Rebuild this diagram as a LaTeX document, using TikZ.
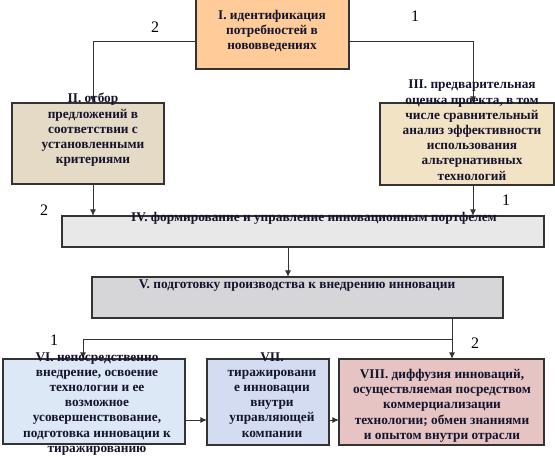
\documentclass[tikz,border=0pt]{standalone}
\usepackage{fontspec}
\setmainfont{Liberation Serif}
\usetikzlibrary{arrows.meta,fit}
\definecolor{ink}{RGB}{20,20,45}
\definecolor{peach}{RGB}{255,204,153}
\definecolor{paper}{RGB}{228,218,198}
\definecolor{tan}{RGB}{242,227,196}
\definecolor{stone}{RGB}{232,232,232}
\definecolor{marble}{RGB}{214,214,216}
\definecolor{sky}{RGB}{220,232,246}
\definecolor{lilac}{RGB}{212,220,242}
\definecolor{rose}{RGB}{230,196,196}
\begin{document}
\begin{tikzpicture}[x=0.75pt,y=-0.75pt,
  box/.style={draw=black!80,line width=0.9pt,inner sep=0pt,outer sep=0pt},
  txt/.style={anchor=north,align=center,inner sep=0pt,text=ink,
    font=\bfseries\fontsize{10}{11.4}\selectfont,execute at begin node=\strut},
  num/.style={inner sep=1pt,font=\fontsize{12}{14}\selectfont},
  arr/.style={draw=black!80,line width=0.75pt,-{Latex[length=5pt,width=4.5pt]}}]
  \useasboundingbox (0,0) rectangle (555,456);
  % boxes
  \node [box,fill=peach,fit={(196,-3) (349,69)}] (b1) {};
  \node [box,fill=paper,fit={(12,103) (164,184)}] (b2) {};
  \node [box,fill=tan,fit={(380,103) (554,185)}] (b3) {};
  \node [box,fill=stone,fit={(62,216) (544,247)}] (b4) {};
  \node [box,fill=marble,fit={(92,277) (503,318)}] (b5) {};
  \node [box,fill=sky,fit={(3,359) (185,444)}] (b6) {};
  \node [box,fill=lilac,fit={(207,359) (329,445)}] (b7) {};
  \node [box,fill=rose,fit={(339,359) (544,445)}] (b8) {};
  \coordinate (split) at (452,339);
  % connectors
  \draw [arr] (b1.west |- 0,42) -| (b2.north -| 93,0);
  \draw [arr] (b1.east |- 0,42) -| (b3.north -| 473,0);
  \draw [arr] (b2.south -| 93,0) -- (b4.north -| 93,0);
  \draw [arr] (b3.south -| 473,0) -- (b4.north -| 473,0);
  \draw [arr] (b4.south -| 288,0) -- (b5.north -| 288,0);
  \draw [arr,-] (b5.south -| split) -- (split);
  \draw [arr] (split) -| (b6.north -| 83,0);
  \draw [arr] (split) -- (b8.north -| split);
  \draw [arr] (b6.east |- 0,420) -- (b7.west |- 0,420);
  \draw [arr] (b7.east |- 0,420) -- (b8.west |- 0,420);
  % texts
  \node [txt] (t1) at (272,10) {I. идентификация\\потребностей в\\нововведениях};
  \node [txt] (t2) at (93,93) {II. отбор\\предложений в\\соответствии с\\установленными\\критериями};
  \node [txt] (t3) at (472,80) {III. предварительная\\оценка проекта, в том\\числе сравнительный\\анализ эффективности\\использования\\альтернативных\\технологий};
  \node [txt] (t4) at (314,211) {IV. формирование и управление инновационным портфелем};
  \node [txt] (t5) at (297,278) {V. подготовку производства к внедрению инновации};
  \node [txt] (t6) at (97,352) {VI. непосредственно\\внедрение, освоение\\технологии и ее\\возможное\\усовершенствование,\\подготовка инновации к\\тиражированию};
  \node [txt] (t7) at (272,352) {VII.\\тиражировани\\е инновации\\внутри\\управляющей\\компании};
  \node [txt] (t8) at (442,369) {VIII. диффузия инноваций,\\осуществляемая посредством\\коммерциализации\\технологии; обмен знаниями\\и опытом внутри отрасли};
  % numbers
  \node [num] (n1) at (155,27) {2};
  \node [num] (n2) at (415,16) {1};
  \node [num] (n3) at (44,210) {2};
  \node [num] (n4) at (506,200) {1};
  \node [num] (n5) at (54,340) {1};
  \node [num] (n6) at (475,343) {2};
\end{tikzpicture}
\end{document}
